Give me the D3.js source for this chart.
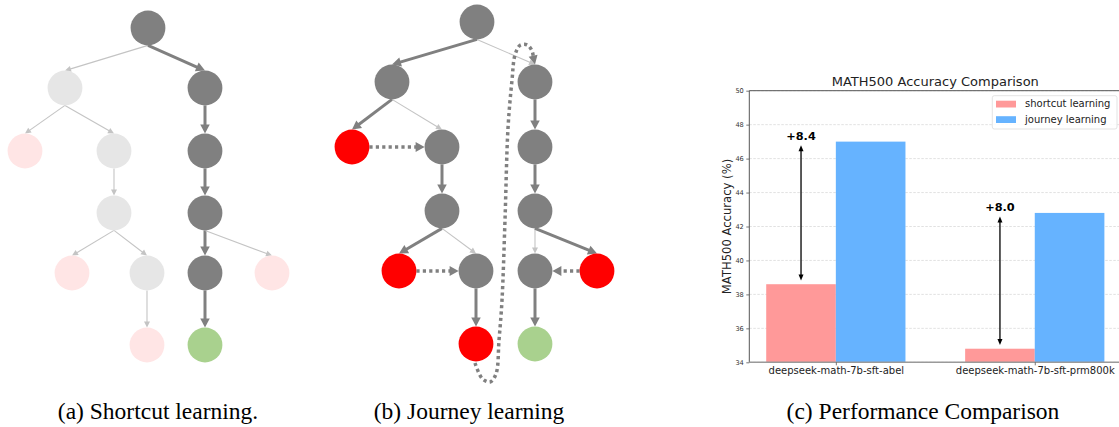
<!DOCTYPE html>
<html><head><meta charset="utf-8">
<script src="https://cdn.jsdelivr.net/npm/d3@7"></script>
<style>body{margin:0;background:#fff}svg{display:block}</style>
</head><body><svg id="c" width="1119" height="427"></svg>
<script>
// ---------------- data ----------------
const categories = ["deepseek-math-7b-sft-abel", "deepseek-math-7b-sft-prm800k"];
const seriesNames = ["shortcut learning", "journey learning"];
const shortcutAcc = [38.6, 34.8];
const journeyAcc = [47.0, 42.8];
const yTicks = [34, 36, 38, 40, 42, 44, 46, 48, 50];
const gainLabels = ["+8.4", "+8.0"];
const chartTitle = "MATH500 Accuracy Comparison";
const yLabel = "MATH500 Accuracy (%)";
const captions = ["(a) Shortcut learning.", "(b) Journey learning", "(c) Performance Comparison"];

// tree (a): [id, column (layout units), level, kind]
const treeANodes = [
  [0, 14.8, 0, "path"], [1, 6.5, 1, "faded"], [2, 20.5, 1, "path"],
  [3, 2.5, 2, "fadedErr"], [4, 11.4, 2, "faded"], [5, 20.5, 2, "path"],
  [6, 11.4, 3, "faded"], [7, 20.5, 3, "path"],
  [8, 7.2, 4, "fadedErr"], [9, 14.7, 4, "faded"], [10, 20.5, 4, "path"], [11, 27.2, 4, "fadedErr"],
  [12, 14.7, 5, "fadedErr"], [13, 20.5, 5, "answer"]
];
const treeAEdges = [
  [0, 1, "alt"], [0, 2, "main"], [1, 3, "alt"], [1, 4, "alt"], [2, 5, "main"],
  [4, 6, "alt"], [5, 7, "main"], [6, 8, "alt"], [6, 9, "alt"], [7, 10, "main"],
  [7, 11, "alt"], [9, 12, "alt"], [10, 13, "main"]
];
// tree (b)
const treeBNodes = [
  [0, 15.7, 0, "path"], [1, 7.2, 1, "path"], [2, 21.5, 1, "path"],
  [3, 3.2, 2, "error"], [4, 12.2, 2, "path"], [5, 21.5, 2, "path"],
  [6, 12.2, 3, "path"], [7, 21.5, 3, "path"],
  [8, 7.9, 4, "error"], [9, 15.6, 4, "path"], [10, 21.5, 4, "path"], [11, 27.7, 4, "error"],
  [12, 15.6, 5, "error"], [13, 21.5, 5, "answer"]
];
const treeBEdges = [
  [0, 1, "main"], [0, 2, "alt"], [1, 3, "main"], [1, 4, "alt"], [3, 4, "back"],
  [2, 5, "main"], [4, 6, "main"], [5, 7, "main"], [6, 8, "main"], [6, 9, "alt"],
  [8, 9, "back"], [7, 10, "alt"], [7, 11, "main"], [11, 10, "back"], [9, 12, "main"], [10, 13, "main"]
];
// backtracking loop from node 12 back to node 2: [column, level]
const loopPath = [
  [15.5, 5.26], [16.2, 5.47], [17.0, 5.52], [17.6, 5.41], [17.9, 4.95], [18.2, 4.40],
  [18.5, 3.15], [18.8, 1.71], [19.2, 0.97], [19.5, 0.55], [20.0, 0.39], [20.7, 0.38], [21.2, 0.48]
];

// ---------------- styles ----------------
const nodeFill = { path: "#808080", faded: "#e6e6e6", fadedErr: "#ffe5e5", error: "#ff0000", answer: "#a9d18e" };
const R = 17.4;
const svg = d3.select("#c");

function arrowHead(g, tip, dir, len, wid, color) {
  const bx = tip[0] - dir[0] * len, by = tip[1] - dir[1] * len;
  const nx = -dir[1], ny = dir[0];
  g.append("path")
    .attr("d", `M${tip[0]},${tip[1]}L${bx + nx * wid / 2},${by + ny * wid / 2}L${bx - nx * wid / 2},${by - ny * wid / 2}Z`)
    .attr("fill", color);
}

function drawTree(nodesRaw, edges, xOff, levelRange, loop) {
  const x = d3.scaleLinear().domain([0, 10]).range([xOff, xOff + 100]);
  const y = d3.scaleLinear().domain([0, 1, 2, 3, 4, 5]).range(levelRange);
  const nodes = new Map(nodesRaw.map(d => [d[0], { cx: x(d[1]), cy: y(d[2]), kind: d[3] }]));
  const g = svg.append("g");
  const eg = g.append("g");
  edges.forEach(([a, b, t]) => {
    const p = nodes.get(a), c = nodes.get(b);
    let s, e;
    if (t === "back") {
      const sg = Math.sign(c.cx - p.cx);
      s = [p.cx + sg * R, p.cy]; e = [c.cx - sg * R, c.cy];
    } else {
      s = [p.cx, p.cy + R]; e = [c.cx, c.cy - R];
    }
    const dx = e[0] - s[0], dy = e[1] - s[1], L = Math.hypot(dx, dy);
    const dir = [dx / L, dy / L];
    const st = {
      main: { w: 3, c: "#808080", hl: 9, hw: 9.5, dash: null },
      alt: { w: 1.1, c: "#c4c4c4", hl: 6, hw: 6, dash: null },
      back: { w: 3.5, c: "#808080", hl: 9, hw: 10, dash: "3.2,3.2" }
    }[t];
    const cut = st.hl * 0.85;
    const ln = eg.append("line")
      .attr("x1", s[0]).attr("y1", s[1])
      .attr("x2", e[0] - dir[0] * cut).attr("y2", e[1] - dir[1] * cut)
      .attr("stroke", st.c).attr("stroke-width", st.w);
    if (st.dash) ln.attr("stroke-dasharray", st.dash);
    arrowHead(eg, e, dir, st.hl, st.hw, st.c);
  });
  if (loop) {
    const target = nodes.get(loop.to);
    const tip = [target.cx, target.cy - R];
    const pts = loop.pts.map(d => [x(d[0]), y(d[1])]);
    const last = pts[pts.length - 1];
    const dx = tip[0] - last[0], dy = tip[1] - last[1], L = Math.hypot(dx, dy);
    const dir = [dx / L, dy / L];
    const base = [tip[0] - dir[0] * 8, tip[1] - dir[1] * 8];
    pts.push(base);
    eg.append("path")
      .attr("d", d3.line().curve(d3.curveCatmullRom.alpha(0.5))(pts))
      .attr("fill", "none").attr("stroke", "#808080").attr("stroke-width", 3.5)
      .attr("stroke-dasharray", "3.2,3.2");
    arrowHead(eg, tip, dir, 9, 9, "#808080");
  }
  g.append("g").selectAll("circle").data([...nodes.values()]).join("circle")
    .attr("cx", d => d.cx).attr("cy", d => d.cy).attr("r", R)
    .attr("fill", d => nodeFill[d.kind]);
}

drawTree(treeANodes, treeAEdges, 0, [28, 88, 151, 213, 273, 345], null);
drawTree(treeBNodes, treeBEdges, 320, [22, 82, 147, 211, 271, 344], { pts: loopPath, to: 2 });

// ---------------- bar chart ----------------
const barW = 0.35;
const xB = d3.scaleLinear().domain([-0.435, 1.435]).range([749.3, 1121.3]);
const yB = d3.scaleLinear().domain([34, 50]).range([362.3, 90.7]);
const colors = ["#ff9999", "#66b3ff"];
const cg = svg.append("g").attr("font-family", "DejaVu Sans, sans-serif");

// grid
cg.append("g").selectAll("line").data(yTicks).join("line")
  .attr("x1", xB.range()[0]).attr("x2", xB.range()[1])
  .attr("y1", d => yB(d)).attr("y2", d => yB(d))
  .attr("stroke", "#d4d4d4").attr("stroke-width", 0.7).attr("stroke-dasharray", "2.5,1.5");

// bars
const barData = [];
categories.forEach((c, i) => {
  barData.push({ x0: i - barW, v: shortcutAcc[i], s: 0 });
  barData.push({ x0: i, v: journeyAcc[i], s: 1 });
});
cg.append("g").selectAll("rect").data(barData).join("rect")
  .attr("x", d => xB(d.x0)).attr("width", d => xB(d.x0 + barW) - xB(d.x0))
  .attr("y", d => yB(d.v)).attr("height", d => yB(34) - yB(d.v))
  .attr("fill", d => colors[d.s]);

// spines
const [L0, L1] = xB.range();
cg.append("line").attr("x1", L0).attr("x2", L1).attr("y1", yB(50)).attr("y2", yB(50)).attr("stroke", "#555").attr("stroke-width", 1);
cg.append("line").attr("x1", L0).attr("x2", L0).attr("y1", yB(50)).attr("y2", yB(34)).attr("stroke", "#555").attr("stroke-width", 1);
cg.append("line").attr("x1", L1).attr("x2", L1).attr("y1", yB(50)).attr("y2", yB(34)).attr("stroke", "#555").attr("stroke-width", 1);
cg.append("line").attr("x1", L0).attr("x2", L1).attr("y1", yB(34)).attr("y2", yB(34)).attr("stroke", "#9a9a9a").attr("stroke-width", 1.6);

// y axis
const ya = cg.append("g").attr("transform", `translate(${L0},0)`)
  .call(d3.axisLeft(yB).tickValues(yTicks).tickSize(3).tickPadding(2.5).tickFormat(d3.format("d")));
ya.select(".domain").remove();
ya.selectAll("line").attr("stroke", "#555").attr("stroke-width", 0.8);
ya.selectAll("text").attr("font-size", "6.6px").attr("fill", "#333").attr("font-family", "DejaVu Sans, sans-serif");

// x axis
const xa = cg.append("g").attr("transform", `translate(0,${yB(34)})`)
  .call(d3.axisBottom(xB).tickValues(categories.map((c, i) => i)).tickSize(3).tickPadding(1.3).tickFormat(i => categories[i]));
xa.select(".domain").remove();
xa.selectAll("line").attr("stroke", "#555").attr("stroke-width", 0.8);
xa.selectAll("text").attr("font-size", "10px").attr("fill", "#222").attr("font-family", "DejaVu Sans, sans-serif");

// title & ylabel
cg.append("text").attr("x", (L0 + L1) / 2).attr("y", 86).attr("text-anchor", "middle")
  .attr("font-size", "13px").attr("fill", "#222").text(chartTitle);
cg.append("text").attr("transform", `translate(731,${(yB(34) + yB(50)) / 2}) rotate(-90)`)
  .attr("text-anchor", "middle").attr("font-size", "11.6px").attr("fill", "#222").text(yLabel);

// gain arrows
categories.forEach((c, i) => {
  const xc = xB(i - barW / 2);
  const yt = yB(journeyAcc[i]) + 3.6, yb = yB(shortcutAcc[i]) - 3.6;
  cg.append("line").attr("x1", xc).attr("x2", xc).attr("y1", yt + 4).attr("y2", yb - 4)
    .attr("stroke", "#000").attr("stroke-width", 1.3);
  arrowHead(cg, [xc, yt], [0, -1], 6, 5, "#000");
  arrowHead(cg, [xc, yb], [0, 1], 6, 5, "#000");
  cg.append("text").attr("x", xc).attr("y", yB(journeyAcc[i]) - 1.5).attr("text-anchor", "middle")
    .attr("font-size", "11.3px").attr("font-weight", "bold").attr("fill", "#000").text(gainLabels[i]);
});

// legend
const lg = cg.append("g");
lg.append("rect").attr("x", 992.3).attr("y", 95.7).attr("width", 124.7).attr("height", 33.3)
  .attr("rx", 2).attr("fill", "#fff").attr("fill-opacity", 0.85).attr("stroke", "#dcdcdc").attr("stroke-width", 0.8);
seriesNames.forEach((n, i) => {
  lg.append("rect").attr("x", 996).attr("y", 100.7 + i * 15.5).attr("width", 20).attr("height", 6.8).attr("fill", colors[i]);
  lg.append("text").attr("x", 1025).attr("y", 107.4 + i * 15.5).attr("font-size", "10px").attr("fill", "#222").text(n);
});

// captions
const capX = [158, 469, 923];
svg.append("g").selectAll("text").data(captions).join("text")
  .attr("x", (d, i) => capX[i]).attr("y", 418.5).attr("text-anchor", "middle")
  .attr("font-family", "Liberation Serif, Times New Roman, serif").attr("font-size", "23.5px").attr("fill", "#000")
  .text(d => d);
</script></body></html>
